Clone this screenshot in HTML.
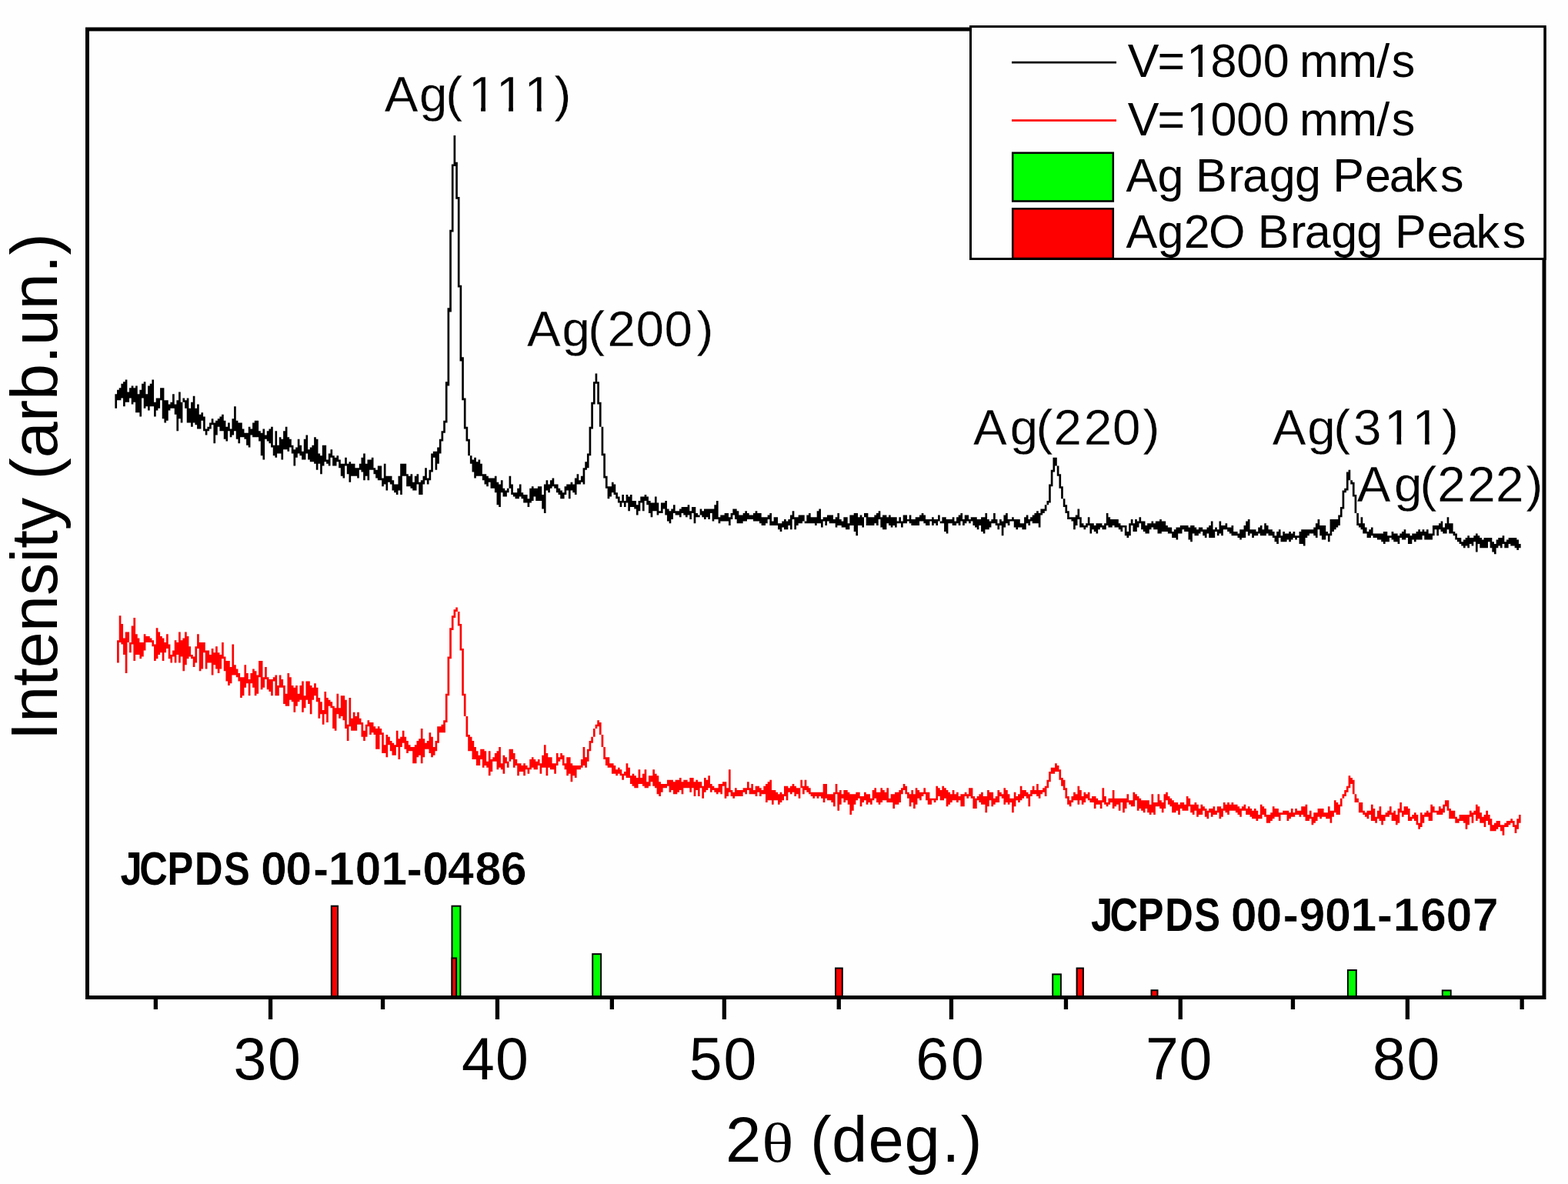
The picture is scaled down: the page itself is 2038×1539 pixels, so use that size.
<!DOCTYPE html>
<html lang="en"><head><meta charset="utf-8"><title>XRD patterns</title>
<style>
html,body{margin:0;padding:0;background:#fefefe;}
body{width:2038px;height:1539px;overflow:hidden;}
svg{display:block;filter:blur(0.7px);}
text{font-family:"Liberation Sans",sans-serif;fill:#000;font-kerning:none;}
.tk{font-size:77px;}
.pk{font-size:65.5px;stroke:#fefefe;stroke-width:0.3px;}
.lg{font-size:61px;}
.ax{font-size:84.7px;}
.jc{font-size:61px;font-weight:bold;}
.jd{stroke:#fefefe;stroke-width:0.6px;}
</style></head><body>
<svg width="2038" height="1539" viewBox="0 0 2038 1539">
<rect x="0" y="0" width="2038" height="1539" fill="#fefefe"/>
<path d="M152.05 832.27V832.27H154.72V800.26H157.38V810.93H160.05V829.60H162.72V821.60H165.39V821.60H168.05V834.94H170.72V813.60H173.39V802.93H176.06V824.27H178.73V829.60H181.39V834.94H184.06V834.94H186.73V824.27H189.40V826.94H192.06V826.94H194.73V829.60H197.40V832.27H200.07V837.61H202.73V816.27H205.40V821.60H208.07V826.94H210.74V829.60H213.40V834.94H216.07V824.27H218.74V837.61H221.41V850.95H224.07V845.61H226.74V832.27H229.41V834.94H232.08V821.60H234.74V832.27H237.41V829.60H240.08V821.60H242.75V826.94H245.41V840.27H248.08V850.95H250.75V853.61H253.42V840.27H256.08V824.27H258.75V834.94H261.42V834.94H264.09V834.94H266.75V845.61H269.42V845.61H272.09V850.95H274.76V842.94H277.42V848.28H280.09V840.27H282.76V848.28H285.43V850.95H288.09V834.94H290.76V853.61H293.43V858.95H296.10V858.95H298.76V866.95H301.43V837.61H304.10V864.28H306.77V869.62H309.43V874.95H312.10V880.29H314.77V880.29H317.44V864.28H320.10V874.95H322.77V882.96H325.44V874.95H328.11V869.62H330.77V872.29H333.44V877.62H336.11V858.95H338.78V858.95H341.45V880.29H344.11V866.95H346.78V880.29H349.45V882.96H352.12V882.96H354.78V880.29H357.45V877.62H360.12V890.96H362.79V877.62H365.45V882.96H368.12V890.96H370.79V901.63H373.46V874.95H376.12V880.29H378.79V890.96H381.46V893.63H384.13V890.96H386.79V901.63H389.46V890.96H392.13V885.62H394.80V904.30H397.46V885.62H400.13V885.62H402.80V890.96H405.47V893.63H408.13V888.29H410.80V893.63H413.47V906.96H416.14V912.30H418.80V922.97H421.47V898.96H424.14V906.96H426.81V909.63H429.47V912.30H432.14V917.63H434.81V920.30H437.48V901.63H440.14V920.30H442.81V904.30H445.48V904.30H448.15V909.63H450.81V941.64H453.48V906.96H456.15V933.64H458.82V925.64H461.48V930.97H464.15V925.64H466.82V933.64H469.49V938.97H472.15V949.64H474.82V941.64H477.49V936.31H480.16V938.97H482.82V938.97H485.49V944.31H488.16V946.98H490.83V944.31H493.49V946.98H496.16V952.31H498.83V968.32H501.50V954.98H504.16V957.65H506.83V962.98H509.50V965.65H512.17V968.32H514.84V949.64H517.50V960.31H520.17V957.65H522.84V949.64H525.51V957.65H528.17V962.98H530.84V968.32H533.51V970.98H536.18V970.98H538.84V968.32H541.51V962.98H544.18V960.31H546.85V946.98H549.51V960.31H552.18V965.65H554.85V962.98H557.52V952.31H560.18V957.65H562.85V970.98H565.52V962.98H568.19V944.31H570.85V944.31H573.52V941.64H576.19V936.31H578.86V901.63H581.52V853.61H584.19V816.27H586.86V800.26H589.53V792.26H592.19V789.59H594.86V794.93H597.53V810.93H600.20V842.94H602.86V901.63H605.53V930.97H608.20V954.98H610.87V957.65H613.53V962.98H616.20V970.98H618.87V976.32H621.54V981.65H624.20V973.65H626.87V973.65H629.54V976.32H632.21V989.66H634.87V976.32H637.54V986.99H640.21V984.32H642.88V978.99H645.54V976.32H648.21V970.98H650.88V992.32H653.55V981.65H656.21V984.32H658.88V989.66H661.55V973.65H664.22V973.65H666.88V978.99H669.55V986.99H672.22V992.32H674.89V992.32H677.55V994.99H680.22V992.32H682.89V994.99H685.56V997.66H688.23V986.99H690.89V984.32H693.56V986.99H696.23V989.66H698.90V986.99H701.56V992.32H704.23V981.65H706.90V968.32H709.57V978.99H712.23V984.32H714.90V984.32H717.57V992.32H720.24V992.32H722.90V978.99H725.57V984.32H728.24V978.99H730.91V981.65H733.57V992.32H736.24V984.32H738.91V984.32H741.58V992.32H744.24V994.99H746.91V994.99H749.58V994.99H752.25V994.99H754.91V986.99H757.58V970.98H760.25V984.32H762.92V973.65H765.58V962.98H768.25V957.65H770.92V946.98H773.59V941.64H776.25V936.31H778.92V938.97H781.59V954.98H784.26V970.98H786.92V984.32H789.59V984.32H792.26V992.32H794.93V992.32H797.59V994.99H800.26V1000.33H802.93V997.66H805.60V1000.33H808.26V1005.66H810.93V1002.99H813.60V992.32H816.27V997.66H818.93V1008.33H821.60V1005.66H824.27V1008.33H826.94V1011.00H829.60V1000.33H832.27V1011.00H834.94V1005.66H837.61V1000.33H840.27V1016.33H842.94V1008.33H845.61V1008.33H848.28V1000.33H850.95V1005.66H853.61V1008.33H856.28V1016.33H858.95V1019.00H861.62V1019.00H864.28V1019.00H866.95V1013.66H869.62V1013.66H872.29V1013.66H874.95V1016.33H877.62V1013.66H880.29V1013.66H882.96V1011.00H885.62V1016.33H888.29V1013.66H890.96V1013.66H893.63V1016.33H896.29V1011.00H898.96V1011.00H901.63V1016.33H904.30V1013.66H906.96V1016.33H909.63V1016.33H912.30V1021.67H914.97V1011.00H917.63V1013.66H920.30V1008.33H922.97V1019.00H925.64V1021.67H928.30V1024.34H930.97V1024.34H933.64V1019.00H936.31V1019.00H938.97V1016.33H941.64V1016.33H944.31V1024.34H946.98V1000.33H949.64V1027.00H952.31V1029.67H954.98V1024.34H957.65V1027.00H960.31V1027.00H962.98V1027.00H965.65V1024.34H968.32V1024.34H970.98V1016.33H973.65V1024.34H976.32V1019.00H978.99V1027.00H981.65V1021.67H984.32V1021.67H986.99V1024.34H989.66V1027.00H992.32V1021.67H994.99V1019.00H997.66V1016.33H1000.33V1013.66H1002.99V1027.00H1005.66V1027.00H1008.33V1029.67H1011.00V1032.34H1013.66V1029.67H1016.33V1032.34H1019.00V1021.67H1021.67V1021.67H1024.34V1024.34H1027.00V1021.67H1029.67V1019.00H1032.34V1021.67H1035.01V1024.34H1037.67V1024.34H1040.34V1013.66H1043.01V1021.67H1045.68V1013.66H1048.34V1021.67H1051.01V1024.34H1053.68V1029.67H1056.35V1029.67H1059.01V1029.67H1061.68V1029.67H1064.35V1029.67H1067.02V1029.67H1069.68V1019.00H1072.35V1019.00H1075.02V1032.34H1077.69V1032.34H1080.35V1032.34H1083.02V1029.67H1085.69V1019.00H1088.36V1029.67H1091.02V1027.00H1093.69V1032.34H1096.36V1027.00H1099.03V1027.00H1101.69V1029.67H1104.36V1032.34H1107.03V1032.34H1109.70V1032.34H1112.36V1029.67H1115.03V1029.67H1117.70V1035.01H1120.37V1035.01H1123.03V1029.67H1125.70V1032.34H1128.37V1032.34H1131.04V1037.67H1133.70V1027.00H1136.37V1024.34H1139.04V1029.67H1141.71V1029.67H1144.37V1024.34H1147.04V1027.00H1149.71V1029.67H1152.38V1024.34H1155.04V1037.67H1157.71V1032.34H1160.38V1032.34H1163.05V1029.67H1165.71V1029.67H1168.38V1027.00H1171.05V1024.34H1173.72V1019.00H1176.38V1021.67H1179.05V1029.67H1181.72V1032.34H1184.39V1027.00H1187.05V1032.34H1189.72V1024.34H1192.39V1027.00H1195.06V1029.67H1197.73V1029.67H1200.39V1024.34H1203.06V1029.67H1205.73V1029.67H1208.40V1037.67H1211.06V1037.67H1213.73V1037.67H1216.40V1021.67H1219.07V1024.34H1221.73V1027.00H1224.40V1021.67H1227.07V1024.34H1229.74V1027.00H1232.40V1029.67H1235.07V1032.34H1237.74V1027.00H1240.41V1032.34H1243.07V1029.67H1245.74V1035.01H1248.41V1032.34H1251.08V1032.34H1253.74V1029.67H1256.41V1032.34H1259.08V1024.34H1261.75V1024.34H1264.41V1035.01H1267.08V1037.67H1269.75V1035.01H1272.42V1032.34H1275.08V1029.67H1277.75V1035.01H1280.42V1035.01H1283.09V1027.00H1285.75V1029.67H1288.42V1029.67H1291.09V1037.67H1293.76V1035.01H1296.42V1027.00H1299.09V1029.67H1301.76V1032.34H1304.43V1024.34H1307.09V1027.00H1309.76V1032.34H1312.43V1037.67H1315.10V1037.67H1317.76V1029.67H1320.43V1035.01H1323.10V1032.34H1325.77V1021.67H1328.43V1027.00H1331.10V1027.00H1333.77V1029.67H1336.44V1032.34H1339.10V1027.00H1341.77V1021.67H1344.44V1027.00H1347.11V1019.00H1349.77V1027.00H1352.44V1027.00H1355.11V1024.34H1357.78V1021.67H1360.45V1013.66H1363.11V1002.99H1365.78V997.66H1368.45V997.66H1371.12V992.32H1373.78V994.99H1376.45V1000.33H1379.12V1011.00H1381.79V1013.66H1384.45V1024.34H1387.12V1035.01H1389.79V1040.34H1392.46V1035.01H1395.12V1029.67H1397.79V1032.34H1400.46V1021.67H1403.13V1027.00H1405.79V1035.01H1408.46V1029.67H1411.13V1032.34H1413.80V1029.67H1416.46V1037.67H1419.13V1035.01H1421.80V1035.01H1424.47V1037.67H1427.13V1040.34H1429.80V1040.34H1432.47V1024.34H1435.14V1035.01H1437.80V1043.01H1440.47V1037.67H1443.14V1037.67H1445.81V1027.00H1448.47V1037.67H1451.14V1037.67H1453.81V1037.67H1456.48V1037.67H1459.14V1037.67H1461.81V1037.67H1464.48V1032.34H1467.15V1040.34H1469.81V1040.34H1472.48V1029.67H1475.15V1032.34H1477.82V1035.01H1480.48V1037.67H1483.15V1040.34H1485.82V1040.34H1488.49V1040.34H1491.15V1040.34H1493.82V1045.68H1496.49V1032.34H1499.16V1043.01H1501.82V1043.01H1504.49V1032.34H1507.16V1040.34H1509.83V1043.01H1512.49V1032.34H1515.16V1029.67H1517.83V1035.01H1520.50V1037.67H1523.16V1040.34H1525.83V1043.01H1528.50V1043.01H1531.17V1045.68H1533.84V1043.01H1536.50V1043.01H1539.17V1045.68H1541.84V1035.01H1544.51V1037.67H1547.17V1045.68H1549.84V1045.68H1552.51V1043.01H1555.18V1045.68H1557.84V1051.01H1560.51V1045.68H1563.18V1048.34H1565.85V1051.01H1568.51V1053.68H1571.18V1051.01H1573.85V1051.01H1576.52V1048.34H1579.18V1053.68H1581.85V1048.34H1584.52V1048.34H1587.19V1051.01H1589.85V1043.01H1592.52V1045.68H1595.19V1043.01H1597.86V1045.68H1600.52V1043.01H1603.19V1045.68H1605.86V1045.68H1608.53V1048.34H1611.19V1051.01H1613.86V1048.34H1616.53V1045.68H1619.20V1051.01H1621.86V1048.34H1624.53V1051.01H1627.20V1053.68H1629.87V1051.01H1632.53V1053.68H1635.20V1059.01H1637.87V1045.68H1640.54V1048.34H1643.20V1051.01H1645.87V1059.01H1648.54V1059.01H1651.21V1056.35H1653.87V1048.34H1656.54V1051.01H1659.21V1051.01H1661.88V1056.35H1664.54V1056.35H1667.21V1053.68H1669.88V1053.68H1672.55V1053.68H1675.21V1056.35H1677.88V1051.01H1680.55V1056.35H1683.22V1051.01H1685.88V1053.68H1688.55V1053.68H1691.22V1048.34H1693.89V1048.34H1696.55V1045.68H1699.22V1059.01H1701.89V1053.68H1704.56V1061.68H1707.23V1056.35H1709.89V1056.35H1712.56V1051.01H1715.23V1051.01H1717.90V1051.01H1720.56V1056.35H1723.23V1056.35H1725.90V1048.34H1728.57V1053.68H1731.23V1053.68H1733.90V1040.34H1736.57V1043.01H1739.24V1045.68H1741.90V1037.67H1744.57V1032.34H1747.24V1027.00H1749.91V1021.67H1752.57V1008.33H1755.24V1011.00H1757.91V1013.66H1760.58V1032.34H1763.24V1037.67H1765.91V1043.01H1768.58V1043.01H1771.25V1053.68H1773.91V1056.35H1776.58V1053.68H1779.25V1053.68H1781.92V1045.68H1784.58V1051.01H1787.25V1061.68H1789.92V1053.68H1792.59V1048.34H1795.25V1059.01H1797.92V1059.01H1800.59V1056.35H1803.26V1053.68H1805.92V1048.34H1808.59V1056.35H1811.26V1053.68H1813.93V1059.01H1816.59V1051.01H1819.26V1043.01H1821.93V1053.68H1824.60V1048.34H1827.26V1048.34H1829.93V1051.01H1832.60V1061.68H1835.27V1059.01H1837.93V1056.35H1840.60V1059.01H1843.27V1069.68H1845.94V1056.35H1848.60V1059.01H1851.27V1056.35H1853.94V1053.68H1856.61V1056.35H1859.27V1045.68H1861.94V1048.34H1864.61V1053.68H1867.28V1053.68H1869.95V1048.34H1872.61V1051.01H1875.28V1045.68H1877.95V1040.34H1880.62V1040.34H1883.28V1051.01H1885.95V1053.68H1888.62V1053.68H1891.29V1061.68H1893.95V1064.35H1896.62V1059.01H1899.29V1059.01H1901.96V1059.01H1904.62V1059.01H1907.29V1059.01H1909.96V1053.68H1912.63V1056.35H1915.29V1053.68H1917.96V1045.68H1920.63V1048.34H1923.30V1056.35H1925.96V1061.68H1928.63V1059.01H1931.30V1053.68H1933.97V1059.01H1936.63V1064.35H1939.30V1072.35H1941.97V1069.68H1944.64V1067.02H1947.30V1067.02H1949.97V1072.35H1952.64V1072.35H1955.31V1069.68H1957.97V1067.02H1960.64V1067.02H1963.31V1064.35H1965.98V1067.02H1968.64V1072.35H1971.31V1064.35H1973.98V1059.01H1976.65V1069.68H1973.98V1077.69H1971.31V1083.02H1968.64V1075.02H1965.98V1069.68H1963.31V1072.35H1960.64V1075.02H1957.97V1075.02H1955.31V1085.69H1952.64V1080.35H1949.97V1075.02H1947.30V1077.69H1944.64V1080.35H1941.97V1080.35H1939.30V1080.35H1936.63V1072.35H1933.97V1067.02H1931.30V1075.02H1928.63V1069.68H1925.96V1069.68H1923.30V1064.35H1920.63V1067.02H1917.96V1059.01H1915.29V1069.68H1912.63V1061.68H1909.96V1072.35H1907.29V1077.69H1904.62V1069.68H1901.96V1067.02H1899.29V1067.02H1896.62V1069.68H1893.95V1069.68H1891.29V1064.35H1888.62V1064.35H1885.95V1064.35H1883.28V1053.68H1880.62V1048.34H1877.95V1056.35H1875.28V1059.01H1872.61V1059.01H1869.95V1059.01H1867.28V1056.35H1864.61V1056.35H1861.94V1067.02H1859.27V1067.02H1856.61V1061.68H1853.94V1061.68H1851.27V1069.68H1848.60V1075.02H1845.94V1077.69H1843.27V1072.35H1840.60V1067.02H1837.93V1064.35H1835.27V1067.02H1832.60V1067.02H1829.93V1059.01H1827.26V1059.01H1824.60V1061.68H1821.93V1056.35H1819.26V1069.68H1816.59V1072.35H1813.93V1067.02H1811.26V1067.02H1808.59V1059.01H1805.92V1061.68H1803.26V1061.68H1800.59V1067.02H1797.92V1072.35H1795.25V1067.02H1792.59V1064.35H1789.92V1069.68H1787.25V1067.02H1784.58V1067.02H1781.92V1059.01H1779.25V1064.35H1776.58V1061.68H1773.91V1059.01H1771.25V1056.35H1768.58V1056.35H1765.91V1043.01H1763.24V1043.01H1760.58V1032.34H1757.91V1019.00H1755.24V1024.34H1752.57V1029.67H1749.91V1035.01H1747.24V1037.67H1744.57V1048.34H1741.90V1059.01H1739.24V1059.01H1736.57V1056.35H1733.90V1061.68H1731.23V1069.68H1728.57V1064.35H1725.90V1064.35H1723.23V1061.68H1720.56V1061.68H1717.90V1064.35H1715.23V1061.68H1712.56V1067.02H1709.89V1069.68H1707.23V1072.35H1704.56V1064.35H1701.89V1067.02H1699.22V1067.02H1696.55V1061.68H1693.89V1059.01H1691.22V1061.68H1688.55V1059.01H1685.88V1059.01H1683.22V1061.68H1680.55V1061.68H1677.88V1064.35H1675.21V1067.02H1672.55V1059.01H1669.88V1059.01H1667.21V1059.01H1664.54V1067.02H1661.88V1061.68H1659.21V1061.68H1656.54V1064.35H1653.87V1067.02H1651.21V1069.68H1648.54V1069.68H1645.87V1061.68H1643.20V1059.01H1640.54V1064.35H1637.87V1064.35H1635.20V1067.02H1632.53V1064.35H1629.87V1064.35H1627.20V1061.68H1624.53V1059.01H1621.86V1059.01H1619.20V1053.68H1616.53V1053.68H1613.86V1061.68H1611.19V1059.01H1608.53V1056.35H1605.86V1053.68H1603.19V1053.68H1600.52V1053.68H1597.86V1059.01H1595.19V1056.35H1592.52V1053.68H1589.85V1061.68H1587.19V1064.35H1584.52V1056.35H1581.85V1059.01H1579.18V1059.01H1576.52V1061.68H1573.85V1056.35H1571.18V1064.35H1568.51V1061.68H1565.85V1053.68H1563.18V1059.01H1560.51V1059.01H1557.84V1061.68H1555.18V1053.68H1552.51V1059.01H1549.84V1056.35H1547.17V1048.34H1544.51V1053.68H1541.84V1053.68H1539.17V1053.68H1536.50V1051.01H1533.84V1059.01H1531.17V1053.68H1528.50V1056.35H1525.83V1056.35H1523.16V1048.34H1520.50V1045.68H1517.83V1040.34H1515.16V1051.01H1512.49V1056.35H1509.83V1051.01H1507.16V1048.34H1504.49V1048.34H1501.82V1059.01H1499.16V1056.35H1496.49V1059.01H1493.82V1056.35H1491.15V1051.01H1488.49V1056.35H1485.82V1053.68H1483.15V1051.01H1480.48V1053.68H1477.82V1040.34H1475.15V1048.34H1472.48V1048.34H1469.81V1045.68H1467.15V1043.01H1464.48V1051.01H1461.81V1056.35H1459.14V1043.01H1456.48V1053.68H1453.81V1045.68H1451.14V1048.34H1448.47V1051.01H1445.81V1043.01H1443.14V1045.68H1440.47V1048.34H1437.80V1045.68H1435.14V1043.01H1432.47V1051.01H1429.80V1045.68H1427.13V1045.68H1424.47V1051.01H1421.80V1043.01H1419.13V1043.01H1416.46V1040.34H1413.80V1037.67H1411.13V1043.01H1408.46V1045.68H1405.79V1040.34H1403.13V1045.68H1400.46V1040.34H1397.79V1040.34H1395.12V1043.01H1392.46V1048.34H1389.79V1045.68H1387.12V1037.67H1384.45V1027.00H1381.79V1021.67H1379.12V1013.66H1376.45V1002.99H1373.78V1002.99H1371.12V1005.66H1368.45V1005.66H1365.78V1016.33H1363.11V1024.34H1360.45V1035.01H1357.78V1029.67H1355.11V1032.34H1352.44V1037.67H1349.77V1035.01H1347.11V1032.34H1344.44V1032.34H1341.77V1035.01H1339.10V1048.34H1336.44V1037.67H1333.77V1035.01H1331.10V1037.67H1328.43V1040.34H1325.77V1043.01H1323.10V1040.34H1320.43V1048.34H1317.76V1056.35H1315.10V1043.01H1312.43V1045.68H1309.76V1043.01H1307.09V1045.68H1304.43V1037.67H1301.76V1035.01H1299.09V1043.01H1296.42V1043.01H1293.76V1045.68H1291.09V1048.34H1288.42V1040.34H1285.75V1048.34H1283.09V1056.35H1280.42V1045.68H1277.75V1045.68H1275.08V1043.01H1272.42V1040.34H1269.75V1051.01H1267.08V1051.01H1264.41V1037.67H1261.75V1035.01H1259.08V1037.67H1256.41V1035.01H1253.74V1048.34H1251.08V1048.34H1248.41V1040.34H1245.74V1043.01H1243.07V1040.34H1240.41V1040.34H1237.74V1043.01H1235.07V1045.68H1232.40V1048.34H1229.74V1037.67H1227.07V1040.34H1224.40V1040.34H1221.73V1035.01H1219.07V1040.34H1216.40V1043.01H1213.73V1040.34H1211.06V1045.68H1208.40V1045.68H1205.73V1040.34H1203.06V1032.34H1200.39V1035.01H1197.73V1040.34H1195.06V1037.67H1192.39V1045.68H1189.72V1051.01H1187.05V1043.01H1184.39V1048.34H1181.72V1037.67H1179.05V1032.34H1176.38V1027.00H1173.72V1032.34H1171.05V1043.01H1168.38V1045.68H1165.71V1045.68H1163.05V1051.01H1160.38V1043.01H1157.71V1043.01H1155.04V1043.01H1152.38V1040.34H1149.71V1040.34H1147.04V1043.01H1144.37V1045.68H1141.71V1043.01H1139.04V1037.67H1136.37V1040.34H1133.70V1045.68H1131.04V1043.01H1128.37V1045.68H1125.70V1040.34H1123.03V1043.01H1120.37V1048.34H1117.70V1037.67H1115.03V1040.34H1112.36V1045.68H1109.70V1053.68H1107.03V1059.01H1104.36V1045.68H1101.69V1040.34H1099.03V1043.01H1096.36V1037.67H1093.69V1045.68H1091.02V1053.68H1088.36V1032.34H1085.69V1048.34H1083.02V1043.01H1080.35V1040.34H1077.69V1040.34H1075.02V1037.67H1072.35V1043.01H1069.68V1037.67H1067.02V1035.01H1064.35V1037.67H1061.68V1035.01H1059.01V1037.67H1056.35V1035.01H1053.68V1032.34H1051.01V1029.67H1048.34V1027.00H1045.68V1032.34H1043.01V1024.34H1040.34V1037.67H1037.67V1032.34H1035.01V1035.01H1032.34V1029.67H1029.67V1032.34H1027.00V1029.67H1024.34V1040.34H1021.67V1035.01H1019.00V1040.34H1016.33V1043.01H1013.66V1045.68H1011.00V1040.34H1008.33V1040.34H1005.66V1045.68H1002.99V1040.34H1000.33V1040.34H997.66V1043.01H994.99V1032.34H992.32V1032.34H989.66V1035.01H986.99V1029.67H984.32V1035.01H981.65V1032.34H978.99V1032.34H976.32V1032.34H973.65V1027.00H970.98V1032.34H968.32V1029.67H965.65V1035.01H962.98V1035.01H960.31V1035.01H957.65V1035.01H954.98V1037.67H952.31V1035.01H949.64V1029.67H946.98V1035.01H944.31V1037.67H941.64V1021.67H938.97V1032.34H936.31V1029.67H933.64V1032.34H930.97V1029.67H928.30V1027.00H925.64V1029.67H922.97V1024.34H920.30V1027.00H917.63V1029.67H914.97V1037.67H912.30V1024.34H909.63V1035.01H906.96V1027.00H904.30V1035.01H901.63V1024.34H898.96V1029.67H896.29V1024.34H893.63V1024.34H890.96V1024.34H888.29V1032.34H885.62V1027.00H882.96V1029.67H880.29V1032.34H877.62V1032.34H874.95V1027.00H872.29V1029.67H869.62V1021.67H866.95V1024.34H864.28V1024.34H861.62V1029.67H858.95V1035.01H856.28V1032.34H853.61V1024.34H850.95V1021.67H848.28V1016.33H845.61V1021.67H842.94V1024.34H840.27V1024.34H837.61V1021.67H834.94V1019.00H832.27V1019.00H829.60V1024.34H826.94V1024.34H824.27V1021.67H821.60V1019.00H818.93V1011.00H816.27V1011.00H813.60V1008.33H810.93V1013.66H808.26V1008.33H805.60V1005.66H802.93V1008.33H800.26V1005.66H797.59V1005.66H794.93V997.66H792.26V997.66H789.59V994.99H786.92V986.99H784.26V970.98H781.59V954.98H778.92V944.31H776.25V946.98H773.59V957.65H770.92V965.65H768.25V976.32H765.58V989.66H762.92V997.66H760.25V994.99H757.58V997.66H754.91V1000.33H752.25V1000.33H749.58V1011.00H746.91V1008.33H744.24V1016.33H741.58V1005.66H738.91V1008.33H736.24V1000.33H733.57V994.99H730.91V986.99H728.24V989.66H725.57V994.99H722.90V1005.66H720.24V1000.33H717.57V1000.33H714.90V997.66H712.23V1008.33H709.57V997.66H706.90V997.66H704.23V1005.66H701.56V994.99H698.90V1000.33H696.23V1000.33H693.56V997.66H690.89V1000.33H688.23V1005.66H685.56V1000.33H682.89V1008.33H680.22V1002.99H677.55V1002.99H674.89V1008.33H672.22V994.99H669.55V997.66H666.88V986.99H664.22V989.66H661.55V997.66H658.88V992.32H656.21V1005.66H653.55V1000.33H650.88V997.66H648.21V1000.33H645.54V989.66H642.88V989.66H640.21V1002.99H637.54V1008.33H634.87V997.66H632.21V994.99H629.54V997.66H626.87V986.99H624.20V994.99H621.54V994.99H618.87V986.99H616.20V986.99H613.53V976.32H610.87V976.32H608.20V957.65H605.53V930.97H602.86V904.30H600.20V845.61H597.53V813.60H594.86V794.93H592.19V802.93H589.53V818.93H586.86V856.28H584.19V904.30H581.52V938.97H578.86V952.31H576.19V952.31H573.52V952.31H570.85V965.65H568.19V976.32H565.52V981.65H562.85V984.32H560.18V978.99H557.52V973.65H554.85V973.65H552.18V984.32H549.51V992.32H546.85V981.65H544.18V984.32H541.51V992.32H538.84V992.32H536.18V976.32H533.51V976.32H530.84V978.99H528.17V973.65H525.51V965.65H522.84V970.98H520.17V986.99H517.50V970.98H514.84V981.65H512.17V981.65H509.50V976.32H506.83V968.32H504.16V984.32H501.50V978.99H498.83V978.99H496.16V954.98H493.49V973.65H490.83V973.65H488.16V954.98H485.49V952.31H482.82V954.98H480.16V944.31H477.49V957.65H474.82V962.98H472.15V957.65H469.49V941.64H466.82V941.64H464.15V949.64H461.48V949.64H458.82V949.64H456.15V944.31H453.48V962.98H450.81V946.98H448.15V936.31H445.48V930.97H442.81V933.64H440.14V928.30H437.48V949.64H434.81V946.98H432.14V920.30H429.47V917.63H426.81V938.97H424.14V928.30H421.47V941.64H418.80V928.30H416.14V933.64H413.47V912.30H410.80V904.30H408.13V909.63H405.47V928.30H402.80V914.97H400.13V909.63H397.46V920.30H394.80V925.64H392.13V909.63H389.46V912.30H386.79V917.63H384.13V925.64H381.46V912.30H378.79V909.63H376.12V917.63H373.46V917.63H370.79V914.97H368.12V893.63H365.45V893.63H362.79V904.30H360.12V904.30H357.45V885.62H354.78V904.30H352.12V898.96H349.45V896.29H346.78V882.96H344.11V893.63H341.45V896.29H338.78V880.29H336.11V901.63H333.44V904.30H330.77V893.63H328.11V888.29H325.44V904.30H322.77V888.29H320.10V893.63H317.44V904.30H314.77V906.96H312.10V885.62H309.43V880.29H306.77V877.62H304.10V877.62H301.43V888.29H298.76V890.96H296.10V885.62H293.43V872.29H290.76V856.28H288.09V869.62H285.43V874.95H282.76V869.62H280.09V864.28H277.42V877.62H274.76V861.62H272.09V861.62H269.42V869.62H266.75V848.28H264.09V869.62H261.42V872.29H258.75V842.94H256.08V861.62H253.42V866.95H250.75V856.28H248.08V853.61H245.41V856.28H242.75V864.28H240.08V872.29H237.41V853.61H234.74V861.62H232.08V850.95H229.41V861.62H226.74V853.61H224.07V861.62H221.41V856.28H218.74V842.94H216.07V848.28H213.40V858.95H210.74V848.28H208.07V850.95H205.40V856.28H202.73V858.95H200.07V840.27H197.40V834.94H194.73V834.94H192.06V834.94H189.40V845.61H186.73V853.61H184.06V856.28H181.39V850.95H178.73V850.95H176.06V858.95H173.39V837.61H170.72V848.28H168.05V834.94H165.39V874.95H162.72V850.95H160.05V837.61H157.38V834.94H154.72V861.62H152.05Z" fill="#ff0000"/>
<path d="M149.38 512.17V512.17H152.05V506.83H154.72V504.16H157.38V498.83H160.05V496.16H162.72V493.49H165.39V509.50H168.05V504.16H170.72V501.50H173.39V504.16H176.06V501.50H178.73V512.17H181.39V506.83H184.06V498.83H186.73V496.16H189.40V512.17H192.06V501.50H194.73V498.83H197.40V493.49H200.07V522.84H202.73V517.50H205.40V517.50H208.07V504.16H210.74V504.16H213.40V520.17H216.07V520.17H218.74V525.51H221.41V522.84H224.07V512.17H226.74V525.51H229.41V520.17H232.08V509.50H234.74V522.84H237.41V517.50H240.08V520.17H242.75V517.50H245.41V530.84H248.08V522.84H250.75V514.84H253.42V530.84H256.08V525.51H258.75V538.84H261.42V536.18H264.09V541.51H266.75V557.52H269.42V554.85H272.09V549.51H274.76V544.18H277.42V549.51H280.09V546.85H282.76V544.18H285.43V541.51H288.09V538.84H290.76V546.85H293.43V554.85H296.10V549.51H298.76V557.52H301.43V544.18H304.10V528.17H306.77V546.85H309.43V549.51H312.10V549.51H314.77V557.52H317.44V562.85H320.10V562.85H322.77V554.85H325.44V557.52H328.11V549.51H330.77V546.85H333.44V546.85H336.11V560.18H338.78V562.85H341.45V557.52H344.11V565.52H346.78V560.18H349.45V557.52H352.12V554.85H354.78V578.86H357.45V560.18H360.12V578.86H362.79V568.19H365.45V570.85H368.12V560.18H370.79V554.85H373.46V568.19H376.12V570.85H378.79V578.86H381.46V584.19H384.13V581.52H386.79V570.85H389.46V578.86H392.13V586.86H394.80V570.85H397.46V565.52H400.13V584.19H402.80V581.52H405.47V578.86H408.13V568.19H410.80V570.85H413.47V589.53H416.14V592.19H418.80V578.86H421.47V578.86H424.14V597.53H426.81V589.53H429.47V584.19H432.14V592.19H434.81V594.86H437.48V592.19H440.14V597.53H442.81V602.86H445.48V602.86H448.15V594.86H450.81V602.86H453.48V600.20H456.15V602.86H458.82V602.86H461.48V608.20H464.15V608.20H466.82V602.86H469.49V594.86H472.15V589.53H474.82V602.86H477.49V597.53H480.16V597.53H482.82V594.86H485.49V608.20H488.16V610.87H490.83V605.53H493.49V605.53H496.16V621.54H498.83V602.86H501.50V618.87H504.16V618.87H506.83V618.87H509.50V624.20H512.17V629.54H514.84V629.54H517.50V618.87H520.17V602.86H522.84V602.86H525.51V602.86H528.17V616.20H530.84V618.87H533.51V616.20H536.18V626.87H538.84V618.87H541.51V616.20H544.18V626.87H546.85V624.20H549.51V618.87H552.18V608.20H554.85V621.54H557.52V610.87H560.18V589.53H562.85V586.86H565.52V586.86H568.19V581.52H570.85V570.85H573.52V560.18H576.19V546.85H578.86V496.16H581.52V400.13H584.19V298.76H586.86V213.40H589.53V176.06H592.19V210.74H594.86V256.08H597.53V370.79H600.20V464.15H602.86V517.50H605.53V554.85H608.20V570.85H610.87V592.19H613.53V597.53H616.20V594.86H618.87V600.20H621.54V597.53H624.20V602.86H626.87V616.20H629.54V616.20H632.21V618.87H634.87V621.54H637.54V621.54H640.21V621.54H642.88V618.87H645.54V626.87H648.21V629.54H650.88V624.20H653.55V634.87H656.21V637.54H658.88V634.87H661.55V618.87H664.22V629.54H666.88V640.21H669.55V640.21H672.22V634.87H674.89V629.54H677.55V640.21H680.22V642.88H682.89V642.88H685.56V648.21H688.23V634.87H690.89V632.21H693.56V634.87H696.23V634.87H698.90V632.21H701.56V632.21H704.23V642.88H706.90V629.54H709.57V624.20H712.23V629.54H714.90V624.20H717.57V621.54H720.24V629.54H722.90V629.54H725.57V634.87H728.24V637.54H730.91V640.21H733.57V632.21H736.24V629.54H738.91V629.54H741.58V626.87H744.24V629.54H746.91V621.54H749.58V616.20H752.25V624.20H754.91V618.87H757.58V608.20H760.25V600.20H762.92V589.53H765.58V554.85H768.25V522.84H770.92V496.16H773.59V485.49H776.25V496.16H778.92V522.84H781.59V554.85H784.26V589.53H786.92V618.87H789.59V632.21H792.26V632.21H794.93V626.87H797.59V629.54H800.26V640.21H802.93V645.54H805.60V650.88H808.26V642.88H810.93V650.88H813.60V642.88H816.27V645.54H818.93V642.88H821.60V650.88H824.27V650.88H826.94V656.21H829.60V650.88H832.27V645.54H834.94V645.54H837.61V642.88H840.27V645.54H842.94V650.88H845.61V653.55H848.28V653.55H850.95V645.54H853.61V653.55H856.28V664.22H858.95V653.55H861.62V653.55H864.28V650.88H866.95V661.55H869.62V664.22H872.29V661.55H874.95V656.21H877.62V664.22H880.29V664.22H882.96V661.55H885.62V658.88H888.29V658.88H890.96V658.88H893.63V656.21H896.29V664.22H898.96V658.88H901.63V658.88H904.30V666.88H906.96V669.55H909.63V661.55H912.30V664.22H914.97V661.55H917.63V661.55H920.30V661.55H922.97V661.55H925.64V661.55H928.30V656.21H930.97V650.88H933.64V672.22H936.31V669.55H938.97V669.55H941.64V666.88H944.31V666.88H946.98V672.22H949.64V666.88H952.31V661.55H954.98V661.55H957.65V664.22H960.31V669.55H962.98V669.55H965.65V666.88H968.32V664.22H970.98V666.88H973.65V669.55H976.32V669.55H978.99V666.88H981.65V664.22H984.32V666.88H986.99V666.88H989.66V672.22H992.32V672.22H994.99V672.22H997.66V669.55H1000.33V666.88H1002.99V677.55H1005.66V672.22H1008.33V672.22H1011.00V680.22H1013.66V680.22H1016.33V677.55H1019.00V674.89H1021.67V677.55H1024.34V674.89H1027.00V669.55H1029.67V664.22H1032.34V672.22H1035.01V672.22H1037.67V669.55H1040.34V669.55H1043.01V669.55H1045.68V677.55H1048.34V669.55H1051.01V666.88H1053.68V672.22H1056.35V672.22H1059.01V672.22H1061.68V664.22H1064.35V661.55H1067.02V674.89H1069.68V672.22H1072.35V672.22H1075.02V669.55H1077.69V669.55H1080.35V669.55H1083.02V674.89H1085.69V672.22H1088.36V666.88H1091.02V674.89H1093.69V677.55H1096.36V672.22H1099.03V672.22H1101.69V680.22H1104.36V669.55H1107.03V669.55H1109.70V666.88H1112.36V666.88H1115.03V672.22H1117.70V669.55H1120.37V672.22H1123.03V666.88H1125.70V666.88H1128.37V672.22H1131.04V672.22H1133.70V672.22H1136.37V669.55H1139.04V666.88H1141.71V664.22H1144.37V672.22H1147.04V669.55H1149.71V669.55H1152.38V672.22H1155.04V669.55H1157.71V672.22H1160.38V672.22H1163.05V672.22H1165.71V677.55H1168.38V672.22H1171.05V677.55H1173.72V669.55H1176.38V669.55H1179.05V674.89H1181.72V669.55H1184.39V674.89H1187.05V674.89H1189.72V672.22H1192.39V672.22H1195.06V669.55H1197.73V666.88H1200.39V669.55H1203.06V674.89H1205.73V674.89H1208.40V674.89H1211.06V672.22H1213.73V674.89H1216.40V674.89H1219.07V669.55H1221.73V677.55H1224.40V672.22H1227.07V672.22H1229.74V674.89H1232.40V674.89H1235.07V674.89H1237.74V672.22H1240.41V677.55H1243.07V672.22H1245.74V669.55H1248.41V666.88H1251.08V674.89H1253.74V669.55H1256.41V669.55H1259.08V674.89H1261.75V672.22H1264.41V672.22H1267.08V672.22H1269.75V674.89H1272.42V674.89H1275.08V672.22H1277.75V672.22H1280.42V666.88H1283.09V674.89H1285.75V677.55H1288.42V674.89H1291.09V666.88H1293.76V674.89H1296.42V680.22H1299.09V674.89H1301.76V677.55H1304.43V669.55H1307.09V666.88H1309.76V674.89H1312.43V674.89H1315.10V672.22H1317.76V674.89H1320.43V674.89H1323.10V674.89H1325.77V680.22H1328.43V680.22H1331.10V672.22H1333.77V669.55H1336.44V674.89H1339.10V672.22H1341.77V669.55H1344.44V666.88H1347.11V664.22H1349.77V666.88H1352.44V661.55H1355.11V661.55H1357.78V656.21H1360.45V650.88H1363.11V629.54H1365.78V610.87H1368.45V594.86H1371.12V594.86H1373.78V605.53H1376.45V616.20H1379.12V632.21H1381.79V648.21H1384.45V656.21H1387.12V664.22H1389.79V672.22H1392.46V672.22H1395.12V672.22H1397.79V669.55H1400.46V661.55H1403.13V672.22H1405.79V680.22H1408.46V682.89H1411.13V680.22H1413.80V672.22H1416.46V680.22H1419.13V680.22H1421.80V682.89H1424.47V680.22H1427.13V680.22H1429.80V680.22H1432.47V682.89H1435.14V680.22H1437.80V666.88H1440.47V672.22H1443.14V674.89H1445.81V674.89H1448.47V674.89H1451.14V674.89H1453.81V680.22H1456.48V682.89H1459.14V682.89H1461.81V682.89H1464.48V690.89H1467.15V680.22H1469.81V674.89H1472.48V680.22H1475.15V674.89H1477.82V677.55H1480.48V672.22H1483.15V677.55H1485.82V677.55H1488.49V682.89H1491.15V680.22H1493.82V680.22H1496.49V677.55H1499.16V680.22H1501.82V677.55H1504.49V677.55H1507.16V674.89H1509.83V677.55H1512.49V677.55H1515.16V682.89H1517.83V685.56H1520.50V685.56H1523.16V690.89H1525.83V688.23H1528.50V685.56H1531.17V685.56H1533.84V682.89H1536.50V682.89H1539.17V682.89H1541.84V682.89H1544.51V685.56H1547.17V682.89H1549.84V682.89H1552.51V685.56H1555.18V688.23H1557.84V685.56H1560.51V685.56H1563.18V688.23H1565.85V688.23H1568.51V685.56H1571.18V682.89H1573.85V677.55H1576.52V688.23H1579.18V685.56H1581.85V688.23H1584.52V677.55H1587.19V682.89H1589.85V682.89H1592.52V680.22H1595.19V685.56H1597.86V685.56H1600.52V682.89H1603.19V690.89H1605.86V690.89H1608.53V693.56H1611.19V688.23H1613.86V688.23H1616.53V682.89H1619.20V677.55H1621.86V674.89H1624.53V688.23H1627.20V688.23H1629.87V688.23H1632.53V690.89H1635.20V685.56H1637.87V682.89H1640.54V688.23H1643.20V680.22H1645.87V682.89H1648.54V688.23H1651.21V688.23H1653.87V690.89H1656.54V696.23H1659.21V690.89H1661.88V688.23H1664.54V696.23H1667.21V690.89H1669.88V693.56H1672.55V693.56H1675.21V690.89H1677.88V693.56H1680.55V690.89H1683.22V696.23H1685.88V696.23H1688.55V690.89H1691.22V688.23H1693.89V688.23H1696.55V688.23H1699.22V688.23H1701.89V688.23H1704.56V688.23H1707.23V685.56H1709.89V680.22H1712.56V674.89H1715.23V682.89H1717.90V682.89H1720.56V682.89H1723.23V690.89H1725.90V693.56H1728.57V674.89H1731.23V674.89H1733.90V674.89H1736.57V674.89H1739.24V669.55H1741.90V658.88H1744.57V637.54H1747.24V634.87H1749.91V613.53H1752.57V610.87H1755.24V624.20H1757.91V626.87H1760.58V642.88H1763.24V666.88H1765.91V680.22H1768.58V672.22H1771.25V680.22H1773.91V685.56H1776.58V690.89H1779.25V688.23H1781.92V685.56H1784.58V693.56H1787.25V693.56H1789.92V693.56H1792.59V693.56H1795.25V693.56H1797.92V690.89H1800.59V690.89H1803.26V696.23H1805.92V696.23H1808.59V690.89H1811.26V693.56H1813.93V693.56H1816.59V696.23H1819.26V693.56H1821.93V690.89H1824.60V688.23H1827.26V693.56H1829.93V693.56H1832.60V696.23H1835.27V693.56H1837.93V693.56H1840.60V690.89H1843.27V688.23H1845.94V690.89H1848.60V688.23H1851.27V690.89H1853.94V688.23H1856.61V693.56H1859.27V693.56H1861.94V682.89H1864.61V682.89H1867.28V682.89H1869.95V680.22H1872.61V677.55H1875.28V685.56H1877.95V680.22H1880.62V672.22H1883.28V680.22H1885.95V680.22H1888.62V690.89H1891.29V693.56H1893.95V698.90H1896.62V698.90H1899.29V704.23H1901.96V701.56H1904.62V698.90H1907.29V696.23H1909.96V698.90H1912.63V698.90H1915.29V696.23H1917.96V693.56H1920.63V696.23H1923.30V698.90H1925.96V701.56H1928.63V698.90H1931.30V698.90H1933.97V698.90H1936.63V698.90H1939.30V704.23H1941.97V706.90H1944.64V701.56H1947.30V698.90H1949.97V698.90H1952.64V696.23H1955.31V704.23H1957.97V701.56H1960.64V698.90H1963.31V698.90H1965.98V698.90H1968.64V698.90H1971.31V701.56H1973.98V706.90H1976.65V712.23H1973.98V714.90H1971.31V712.23H1968.64V709.57H1965.98V709.57H1963.31V706.90H1960.64V712.23H1957.97V712.23H1955.31V706.90H1952.64V712.23H1949.97V709.57H1947.30V712.23H1944.64V720.24H1941.97V717.57H1939.30V712.23H1936.63V704.23H1933.97V712.23H1931.30V712.23H1928.63V712.23H1925.96V712.23H1923.30V706.90H1920.63V717.57H1917.96V704.23H1915.29V709.57H1912.63V706.90H1909.96V712.23H1907.29V709.57H1904.62V712.23H1901.96V709.57H1899.29V706.90H1896.62V704.23H1893.95V701.56H1891.29V696.23H1888.62V693.56H1885.95V693.56H1883.28V688.23H1880.62V693.56H1877.95V693.56H1875.28V690.89H1872.61V688.23H1869.95V696.23H1867.28V688.23H1864.61V696.23H1861.94V701.56H1859.27V701.56H1856.61V701.56H1853.94V701.56H1851.27V696.23H1848.60V701.56H1845.94V701.56H1843.27V701.56H1840.60V704.23H1837.93V701.56H1835.27V706.90H1832.60V706.90H1829.93V698.90H1827.26V701.56H1824.60V701.56H1821.93V698.90H1819.26V706.90H1816.59V704.23H1813.93V704.23H1811.26V701.56H1808.59V698.90H1805.92V704.23H1803.26V704.23H1800.59V706.90H1797.92V704.23H1795.25V701.56H1792.59V701.56H1789.92V698.90H1787.25V698.90H1784.58V696.23H1781.92V698.90H1779.25V698.90H1776.58V693.56H1773.91V693.56H1771.25V688.23H1768.58V685.56H1765.91V682.89H1763.24V666.88H1760.58V645.54H1757.91V629.54H1755.24V624.20H1752.57V637.54H1749.91V640.21H1747.24V661.55H1744.57V672.22H1741.90V682.89H1739.24V685.56H1736.57V688.23H1733.90V690.89H1731.23V696.23H1728.57V704.23H1725.90V696.23H1723.23V701.56H1720.56V701.56H1717.90V696.23H1715.23V688.23H1712.56V698.90H1709.89V696.23H1707.23V693.56H1704.56V693.56H1701.89V696.23H1699.22V698.90H1696.55V709.57H1693.89V706.90H1691.22V706.90H1688.55V698.90H1685.88V701.56H1683.22V698.90H1680.55V701.56H1677.88V704.23H1675.21V701.56H1672.55V704.23H1669.88V704.23H1667.21V704.23H1664.54V698.90H1661.88V706.90H1659.21V704.23H1656.54V698.90H1653.87V696.23H1651.21V696.23H1648.54V693.56H1645.87V696.23H1643.20V696.23H1640.54V696.23H1637.87V693.56H1635.20V696.23H1632.53V696.23H1629.87V698.90H1627.20V693.56H1624.53V696.23H1621.86V690.89H1619.20V698.90H1616.53V698.90H1613.86V701.56H1611.19V698.90H1608.53V696.23H1605.86V696.23H1603.19V696.23H1600.52V693.56H1597.86V690.89H1595.19V688.23H1592.52V688.23H1589.85V696.23H1587.19V693.56H1584.52V696.23H1581.85V690.89H1579.18V698.90H1576.52V698.90H1573.85V698.90H1571.18V693.56H1568.51V698.90H1565.85V696.23H1563.18V690.89H1560.51V693.56H1557.84V696.23H1555.18V696.23H1552.51V693.56H1549.84V704.23H1547.17V701.56H1544.51V690.89H1541.84V690.89H1539.17V688.23H1536.50V693.56H1533.84V693.56H1531.17V701.56H1528.50V698.90H1525.83V698.90H1523.16V693.56H1520.50V693.56H1517.83V690.89H1515.16V690.89H1512.49V690.89H1509.83V693.56H1507.16V693.56H1504.49V688.23H1501.82V688.23H1499.16V685.56H1496.49V688.23H1493.82V693.56H1491.15V693.56H1488.49V690.89H1485.82V688.23H1483.15V680.22H1480.48V685.56H1477.82V690.89H1475.15V690.89H1472.48V682.89H1469.81V696.23H1467.15V698.90H1464.48V696.23H1461.81V685.56H1459.14V690.89H1456.48V688.23H1453.81V685.56H1451.14V685.56H1448.47V682.89H1445.81V685.56H1443.14V685.56H1440.47V682.89H1437.80V688.23H1435.14V688.23H1432.47V685.56H1429.80V688.23H1427.13V693.56H1424.47V690.89H1421.80V688.23H1419.13V693.56H1416.46V682.89H1413.80V685.56H1411.13V688.23H1408.46V685.56H1405.79V685.56H1403.13V674.89H1400.46V682.89H1397.79V688.23H1395.12V677.55H1392.46V674.89H1389.79V674.89H1387.12V666.88H1384.45V658.88H1381.79V648.21H1379.12V634.87H1376.45V618.87H1373.78V605.53H1371.12V613.53H1368.45V632.21H1365.78V653.55H1363.11V656.21H1360.45V664.22H1357.78V666.88H1355.11V669.55H1352.44V685.56H1349.77V680.22H1347.11V680.22H1344.44V680.22H1341.77V677.55H1339.10V682.89H1336.44V680.22H1333.77V688.23H1331.10V688.23H1328.43V685.56H1325.77V685.56H1323.10V688.23H1320.43V685.56H1317.76V677.55H1315.10V677.55H1312.43V682.89H1309.76V680.22H1307.09V685.56H1304.43V696.23H1301.76V682.89H1299.09V688.23H1296.42V682.89H1293.76V680.22H1291.09V680.22H1288.42V685.56H1285.75V688.23H1283.09V688.23H1280.42V693.56H1277.75V690.89H1275.08V682.89H1272.42V688.23H1269.75V685.56H1267.08V682.89H1264.41V677.55H1261.75V680.22H1259.08V677.55H1256.41V680.22H1253.74V682.89H1251.08V677.55H1248.41V682.89H1245.74V680.22H1243.07V682.89H1240.41V682.89H1237.74V680.22H1235.07V680.22H1232.40V693.56H1229.74V690.89H1227.07V680.22H1224.40V680.22H1221.73V677.55H1219.07V682.89H1216.40V680.22H1213.73V682.89H1211.06V677.55H1208.40V682.89H1205.73V682.89H1203.06V680.22H1200.39V677.55H1197.73V677.55H1195.06V682.89H1192.39V682.89H1189.72V682.89H1187.05V682.89H1184.39V680.22H1181.72V677.55H1179.05V680.22H1176.38V680.22H1173.72V685.56H1171.05V680.22H1168.38V680.22H1165.71V685.56H1163.05V682.89H1160.38V685.56H1157.71V682.89H1155.04V680.22H1152.38V688.23H1149.71V688.23H1147.04V685.56H1144.37V674.89H1141.71V682.89H1139.04V680.22H1136.37V682.89H1133.70V682.89H1131.04V682.89H1128.37V682.89H1125.70V672.22H1123.03V685.56H1120.37V682.89H1117.70V682.89H1115.03V696.23H1112.36V690.89H1109.70V682.89H1107.03V682.89H1104.36V688.23H1101.69V688.23H1099.03V685.56H1096.36V685.56H1093.69V682.89H1091.02V682.89H1088.36V685.56H1085.69V680.22H1083.02V680.22H1080.35V680.22H1077.69V677.55H1075.02V682.89H1072.35V677.55H1069.68V685.56H1067.02V680.22H1064.35V680.22H1061.68V682.89H1059.01V680.22H1056.35V680.22H1053.68V680.22H1051.01V680.22H1048.34V680.22H1045.68V677.55H1043.01V680.22H1040.34V680.22H1037.67V682.89H1035.01V688.23H1032.34V674.89H1029.67V688.23H1027.00V682.89H1024.34V688.23H1021.67V688.23H1019.00V685.56H1016.33V690.89H1013.66V688.23H1011.00V682.89H1008.33V682.89H1005.66V682.89H1002.99V682.89H1000.33V674.89H997.66V680.22H994.99V682.89H992.32V682.89H989.66V680.22H986.99V677.55H984.32V677.55H981.65V677.55H978.99V674.89H976.32V674.89H973.65V674.89H970.98V677.55H968.32V677.55H965.65V680.22H962.98V680.22H960.31V680.22H957.65V674.89H954.98V669.55H952.31V674.89H949.64V682.89H946.98V677.55H944.31V677.55H941.64V677.55H938.97V677.55H936.31V680.22H933.64V674.89H930.97V674.89H928.30V677.55H925.64V666.88H922.97V674.89H920.30V672.22H917.63V674.89H914.97V672.22H912.30V669.55H909.63V672.22H906.96V672.22H904.30V680.22H901.63V666.88H898.96V674.89H896.29V669.55H893.63V672.22H890.96V669.55H888.29V666.88H885.62V672.22H882.96V669.55H880.29V669.55H877.62V666.88H874.95V674.89H872.29V680.22H869.62V677.55H866.95V669.55H864.28V661.55H861.62V666.88H858.95V666.88H856.28V669.55H853.61V664.22H850.95V664.22H848.28V672.22H845.61V666.88H842.94V656.21H840.27V650.88H837.61V664.22H834.94V653.55H832.27V664.22H829.60V669.55H826.94V661.55H824.27V658.88H821.60V658.88H818.93V664.22H816.27V653.55H813.60V658.88H810.93V653.55H808.26V658.88H805.60V653.55H802.93V648.21H800.26V642.88H797.59V640.21H794.93V645.54H792.26V648.21H789.59V634.87H786.92V621.54H784.26V592.19H781.59V554.85H778.92V525.51H776.25V498.83H773.59V525.51H770.92V557.52H768.25V592.19H765.58V608.20H762.92V610.87H760.25V629.54H757.58V626.87H754.91V629.54H752.25V629.54H749.58V642.88H746.91V640.21H744.24V637.54H741.58V648.21H738.91V637.54H736.24V642.88H733.57V648.21H730.91V648.21H728.24V642.88H725.57V640.21H722.90V634.87H720.24V632.21H717.57V634.87H714.90V640.21H712.23V637.54H709.57V666.88H706.90V661.55H704.23V650.88H701.56V650.88H698.90V650.88H696.23V645.54H693.56V650.88H690.89V653.55H688.23V658.88H685.56V653.55H682.89V653.55H680.22V648.21H677.55V645.54H674.89V648.21H672.22V648.21H669.55V645.54H666.88V642.88H664.22V634.87H661.55V640.21H658.88V645.54H656.21V645.54H653.55V640.21H650.88V658.88H648.21V656.21H645.54V640.21H642.88V634.87H640.21V634.87H637.54V626.87H634.87V632.21H632.21V629.54H629.54V624.20H626.87V618.87H624.20V618.87H621.54V618.87H618.87V621.54H616.20V613.53H613.53V602.86H610.87V592.19H608.20V573.52H605.53V557.52H602.86V520.17H600.20V469.49H597.53V373.46H594.86V258.75H592.19V216.07H589.53V301.43H586.86V405.47H584.19V501.50H581.52V549.51H578.86V562.85H576.19V573.52H573.52V589.53H570.85V602.86H568.19V610.87H565.52V594.86H562.85V613.53H560.18V624.20H557.52V629.54H554.85V624.20H552.18V629.54H549.51V642.88H546.85V642.88H544.18V629.54H541.51V637.54H538.84V637.54H536.18V634.87H533.51V632.21H530.84V632.21H528.17V618.87H525.51V618.87H522.84V642.88H520.17V637.54H517.50V642.88H514.84V640.21H512.17V637.54H509.50V629.54H506.83V626.87H504.16V637.54H501.50V629.54H498.83V632.21H496.16V624.20H493.49V624.20H490.83V621.54H488.16V616.20H485.49V610.87H482.82V610.87H480.16V624.20H477.49V618.87H474.82V624.20H472.15V613.53H469.49V610.87H466.82V621.54H464.15V618.87H461.48V618.87H458.82V618.87H456.15V626.87H453.48V616.20H450.81V605.53H448.15V621.54H445.48V618.87H442.81V608.20H440.14V600.20H437.48V605.53H434.81V605.53H432.14V594.86H429.47V605.53H426.81V602.86H424.14V600.20H421.47V605.53H418.80V616.20H416.14V602.86H413.47V610.87H410.80V602.86H408.13V600.20H405.47V600.20H402.80V597.53H400.13V589.53H397.46V597.53H394.80V597.53H392.13V592.19H389.46V589.53H386.79V594.86H384.13V605.53H381.46V589.53H378.79V581.52H376.12V586.86H373.46V584.19H370.79V584.19H368.12V597.53H365.45V589.53H362.79V589.53H360.12V594.86H357.45V592.19H354.78V581.52H352.12V576.19H349.45V573.52H346.78V570.85H344.11V597.53H341.45V592.19H338.78V573.52H336.11V568.19H333.44V568.19H330.77V568.19H328.11V565.52H325.44V581.52H322.77V578.86H320.10V570.85H317.44V568.19H314.77V568.19H312.10V576.19H309.43V570.85H306.77V560.18H304.10V565.52H301.43V568.19H298.76V560.18H296.10V573.52H293.43V570.85H290.76V560.18H288.09V560.18H285.43V554.85H282.76V565.52H280.09V576.19H277.42V552.18H274.76V557.52H272.09V560.18H269.42V565.52H266.75V560.18H264.09V546.85H261.42V557.52H258.75V557.52H256.08V552.18H253.42V549.51H250.75V554.85H248.08V549.51H245.41V549.51H242.75V530.84H240.08V522.84H237.41V549.51H234.74V544.18H232.08V560.18H229.41V538.84H226.74V530.84H224.07V530.84H221.41V533.51H218.74V546.85H216.07V549.51H213.40V544.18H210.74V520.17H208.07V530.84H205.40V533.51H202.73V541.51H200.07V528.17H197.40V528.17H194.73V533.51H192.06V528.17H189.40V530.84H186.73V517.50H184.06V541.51H181.39V536.18H178.73V536.18H176.06V522.84H173.39V525.51H170.72V517.50H168.05V522.84H165.39V522.84H162.72V528.17H160.05V517.50H157.38V520.17H154.72V520.17H152.05V530.84H149.38Z" fill="#000"/>
<rect x="587.5" y="1177.7" width="10.9" height="119.3" fill="#00ff00" stroke="#000" stroke-width="2"/>
<rect x="770.2" y="1240.1" width="10.9" height="56.9" fill="#00ff00" stroke="#000" stroke-width="2"/>
<rect x="1368.2" y="1266.4" width="10.7" height="30.6" fill="#00ff00" stroke="#000" stroke-width="2"/>
<rect x="1751.9" y="1261.0" width="10.9" height="36.0" fill="#00ff00" stroke="#000" stroke-width="2"/>
<rect x="1874.8" y="1287.4" width="10.9" height="9.6" fill="#00ff00" stroke="#000" stroke-width="2"/>
<rect x="430.8" y="1177.7" width="8.2" height="119.3" fill="#ff0000" stroke="#000" stroke-width="2"/>
<rect x="587.5" y="1245.4" width="5.6" height="51.6" fill="#ff0000" stroke="#000" stroke-width="2"/>
<rect x="1086.0" y="1258.5" width="8.8" height="38.5" fill="#ff0000" stroke="#000" stroke-width="2"/>
<rect x="1399.6" y="1258.5" width="8.3" height="38.5" fill="#ff0000" stroke="#000" stroke-width="2"/>
<rect x="1496.5" y="1287.2" width="8.0" height="9.8" fill="#ff0000" stroke="#000" stroke-width="2"/>
<rect x="113.5" y="38" width="1893.5" height="1258.5" fill="none" stroke="#000" stroke-width="5"/>
<rect x="199.7" y="1296" width="5.3" height="16" fill="#000"/>
<rect x="348.9" y="1296" width="5.3" height="29" fill="#000"/>
<text class="tk" x="303.6 348.1" y="1402.8">30</text>
<rect x="494.9" y="1296" width="5.3" height="16" fill="#000"/>
<rect x="643.8" y="1296" width="5.3" height="29" fill="#000"/>
<text class="tk" x="599.9 643.9" y="1402.8">40</text>
<rect x="792.7" y="1296" width="5.3" height="16" fill="#000"/>
<rect x="938.7" y="1296" width="5.3" height="29" fill="#000"/>
<text class="tk" x="895.7 940.4" y="1402.8">50</text>
<rect x="1087.6" y="1296" width="5.3" height="16" fill="#000"/>
<rect x="1233.8" y="1296" width="5.3" height="29" fill="#000"/>
<text class="tk" x="1190.2 1236.0" y="1402.8">60</text>
<rect x="1382.8" y="1296" width="5.3" height="16" fill="#000"/>
<rect x="1531.6" y="1296" width="5.3" height="29" fill="#000"/>
<text class="tk" x="1489.0 1532.4" y="1402.8">70</text>
<rect x="1677.8" y="1296" width="5.3" height="16" fill="#000"/>
<rect x="1826.7" y="1296" width="5.3" height="29" fill="#000"/>
<text class="tk" x="1784.1 1828.6" y="1402.8">80</text>
<rect x="1975.5" y="1296" width="5.3" height="16" fill="#000"/>
<text class="ax" style="font-size:83.3px" x="943.0" y="1510.2">2</text>
<text transform="translate(990.28,1510.3) scale(1.1774,1)" style="font-family:'Liberation Serif',serif;font-size:72.8px">θ</text>
<text class="ax" style="font-size:83.3px" x="1053.1 1081.1 1128.4 1175.6 1224.2 1248.8" y="1510.2">(deg.)</text>
<text class="ax" transform="translate(74.0,962.3) rotate(-90)">Intensity (arb.un.)</text>
<clipPath id="c1"><path clip-rule="evenodd" d="M0 79.8H2038V171.5H0ZM612.0 134.8H625.1V147.3H612.0ZM631.0 134.8H643.4V147.3H631.0ZM648.0 134.8H661.1V147.3H648.0ZM667.0 134.8H679.4V147.3H667.0ZM684.7 134.8H697.8V147.3H684.7ZM703.7 134.8H716.1V147.3H703.7Z"/></clipPath><text class="pk" x="499.7 545.0 579.2 608.7 644.7 681.4 720.5" y="145.3" clip-path="url(#c1)">Ag(111)</text>
<text class="pk" x="685.1 730.6 764.2 789.6 826.4 863.4 905.5" y="450.3">Ag(200)</text>
<text class="pk" x="1265.1 1312.8 1346.6 1369.6 1408.8 1446.0 1485.5" y="578.0">Ag(220)</text>
<clipPath id="c2"><path clip-rule="evenodd" d="M0 512.5H2038V604.2H0ZM1802.3 567.5H1815.4V580.0H1802.3ZM1821.3 567.5H1833.7V580.0H1821.3ZM1838.8 567.5H1851.9V580.0H1838.8ZM1857.8 567.5H1870.2V580.0H1857.8Z"/></clipPath><text class="pk" x="1653.8 1699.3 1733.2 1759.0 1799.0 1835.5 1873.9" y="578.0" clip-path="url(#c2)">Ag(311)</text>
<text class="pk" x="1763.8 1811.9 1845.6 1868.2 1907.3 1944.1 1983.6" y="651.6">Ag(222)</text>
<text class="jc" transform="translate(160.80,1149.6) scale(0.83,1)" x="-5.1 24.7 68.4 111.0 156.8">JCPDS</text>
<text class="jc jd" x="338.9 371.2 407.1 426.8 461.6 495.2 528.5 549.3 582.0 617.5 650.8" y="1149.6">00-101-0486</text>
<text class="jc" transform="translate(1422.10,1209.6) scale(0.83,1)" x="-5.1 24.7 68.4 111.0 156.8">JCPDS</text>
<text class="jc jd" x="1599.8 1632.6 1667.6 1688.6 1722.0 1755.6 1789.8 1810.7 1846.0 1879.5 1913.7" y="1209.6">00-901-1607</text>
<rect x="1261.5" y="34.5" width="746.5" height="302" fill="#fefefe" stroke="#000" stroke-width="3"/>
<rect x="1315" y="79.8" width="136" height="2.7" fill="#000"/>
<rect x="1315" y="155.2" width="136" height="2.7" fill="#ff0000"/>
<rect x="1316.2" y="198.7" width="130.6" height="62.8" fill="#00ff00" stroke="#000" stroke-width="2.5"/>
<rect x="1316.2" y="271.3" width="130.6" height="64.7" fill="#ff0000" stroke="#000" stroke-width="2.5"/>
<rect x="1261.5" y="34.5" width="746.5" height="302" fill="none" stroke="#000" stroke-width="3"/>
<clipPath id="c3"><path clip-rule="evenodd" d="M0 39.3H2038V124.7H0ZM1545.3 90.5H1557.5V102.3H1545.3ZM1563.0 90.5H1574.6V102.3H1563.0Z"/></clipPath><text class="lg" x="1465.7 1504.5 1542.3 1573.4 1607.3 1641.7 1675.6 1688.9 1739.3 1789.3 1808.7" y="100.3" clip-path="url(#c3)">V=1800 mm/s</text>
<clipPath id="c4"><path clip-rule="evenodd" d="M0 114.9H2038V200.3H0ZM1545.3 166.1H1557.5V177.9H1545.3ZM1563.0 166.1H1574.6V177.9H1563.0Z"/></clipPath><text class="lg" x="1465.7 1504.5 1542.3 1573.4 1607.3 1641.7 1675.6 1688.9 1739.3 1789.3 1808.7" y="175.9" clip-path="url(#c4)">V=1000 mm/s</text>
<text class="lg" x="1463.4 1504.6 1538.5 1554.1 1596.3 1614.9 1649.8 1683.0 1716.9 1732.3 1773.9 1805.7 1837.8 1871.9" y="249.4">Ag Bragg Peaks</text>
<text class="lg" x="1463.4 1504.6 1538.7 1571.0 1618.5 1634.8 1677.1 1695.7 1730.2 1763.3 1797.2 1813.1 1854.8 1886.5 1918.6 1952.8" y="322.0">Ag2O Bragg Peaks</text>
</svg>
</body></html>
